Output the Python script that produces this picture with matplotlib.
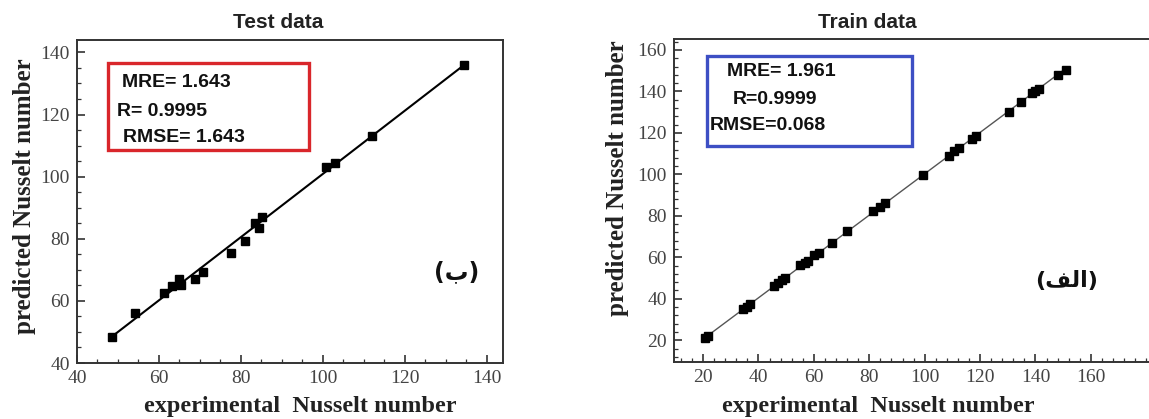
#!/usr/bin/env python3
"""
Predicted vs experimental Nusselt number (test / train)
"""

import numpy as np
import matplotlib
matplotlib.use("Agg")
import matplotlib.pyplot as plt
from matplotlib.ticker import MultipleLocator
from matplotlib.patches import Rectangle

# Test data
test_exp = [48.6, 54.1, 61.3, 63.1, 65.0, 65.4, 68.9, 70.7, 77.5, 81.0,
            83.4, 84.5, 85.2, 100.8, 102.9, 111.9, 134.4]
test_pred = [48.4, 56.1, 62.5, 64.8, 67.0, 65.2, 67.2, 69.3, 75.3, 79.3,
             85.1, 83.5, 87.0, 103.1, 104.5, 113.2, 136.0]

# Train data
train_exp = [20.8, 21.8, 34.5, 35.7, 37.1, 45.7, 47.1, 48.6, 49.6, 55.0,
             56.8, 57.8, 60.2, 61.9, 66.7, 71.9, 81.5, 84.0, 85.7, 99.3,
             108.7, 110.5, 112.3, 117.1, 118.6, 130.4, 134.6, 138.8, 140.0,
             141.2, 148.1, 150.9]
train_pred = [21.0, 22.0, 35.0, 35.8, 37.3, 46.1, 47.4, 49.0, 49.8, 56.1,
              57.4, 58.2, 61.0, 62.3, 67.1, 72.7, 82.1, 84.5, 86.1, 99.5,
              109.1, 111.2, 112.8, 117.1, 118.4, 130.3, 134.8, 139.1, 140.4,
              141.2, 148.1, 150.5]
train_xticks = [20, 40, 60, 80, 100, 120, 140, 160]

test_stats = ["MRE= 1.643", "R= 0.9995", "RMSE= 1.643"]
train_stats = ["MRE= 1.961", "R=0.9999", "RMSE=0.068"]

W, H = 1149, 419
SERIF = "Liberation Serif"
SANS = "Liberation Sans"


def px(x, y):
    """pixel -> figure fraction"""
    return x / W, 1 - y / H


def style_axes(ax, major, minor):
    for s in ax.spines.values():
        s.set_color("#333333")
        s.set_linewidth(1.4)
    ax.xaxis.set_major_locator(MultipleLocator(major))
    ax.yaxis.set_major_locator(MultipleLocator(major))
    ax.xaxis.set_minor_locator(MultipleLocator(minor))
    ax.yaxis.set_minor_locator(MultipleLocator(minor))
    ax.tick_params(which="both", direction="in", top=False, right=False,
                   colors="#333333", labelcolor="#444444")
    ax.tick_params(which="major", length=6, width=1.2, labelsize=14, pad=5)
    ax.tick_params(which="minor", length=3, width=0.9)


def serif_ticks(ax):
    for lab in ax.get_xticklabels() + ax.get_yticklabels():
        lab.set_family(SERIF)


def stat_box(fig, rect, color, lines):
    x0, y0, x1, y1 = rect
    fx0, fy1 = px(x0, y0)
    fx1, fy0 = px(x1, y1)
    fig.patches.append(Rectangle((fx0, fy0), fx1 - fx0, fy1 - fy0,
                                 transform=fig.transFigure, fill=False,
                                 edgecolor=color, linewidth=2.4))
    for (tx, ty), txt in lines:
        fig.text(*px(tx, ty), txt, family=SANS, weight="bold", fontsize=14,
                 color="#111111", va="center", ha="left")


fig = plt.figure(figsize=(W / 100, H / 100), dpi=100)

# Test panel
ax1 = fig.add_axes([77 / W, 1 - 363 / H, (503 - 77) / W, (363 - 40) / H])
ax1.set_xlim(40, 144)
ax1.set_ylim(40, 144)
coef = np.polyfit(test_exp, test_pred, 1)
xs = np.array([min(test_exp), max(test_exp)])
ax1.plot(xs, np.polyval(coef, xs), color="black", lw=1.5, zorder=2)
ax1.plot(test_exp, test_pred, "s", color="black", ms=5.5, zorder=3)
style_axes(ax1, 20, 5)
serif_ticks(ax1)

# Train panel (right spine runs past the picture edge)
ax2 = fig.add_axes([674 / W, 1 - 362 / H, 485 / W, (362 - 39) / H])
coef2 = np.polyfit(train_exp, train_pred, 1)
xs2 = np.array([min(train_exp), max(train_exp)])
ax2.plot(xs2, np.polyval(coef2, xs2), color="#555555", lw=1.0, zorder=2)
ax2.plot(train_exp, train_pred, "s", color="black", ms=5.5, zorder=3)
style_axes(ax2, 20, 4)
ax2.set_xticks(train_xticks)
ax2.set_xlim(9.5, 184.6)
ax2.set_ylim(9.5, 165.3)
serif_ticks(ax2)

# titles
fig.text(*px(278, 22), "Test data", family=SANS, weight="bold", fontsize=15,
         ha="center", va="center", color="#222222")
fig.text(*px(867, 22), "Train data", family=SANS, weight="bold", fontsize=15,
         ha="center", va="center", color="#222222")

# axis labels
fig.text(*px(25, 196), "predicted Nusselt number", family=SERIF,
         weight="bold", fontsize=18, rotation=90, ha="center", va="center",
         color="#222222")
fig.text(*px(617, 178), "predicted Nusselt number", family=SERIF,
         weight="bold", fontsize=18, rotation=90, ha="center", va="center",
         color="#222222")
fig.text(*px(300, 406), "experimental  Nusselt number", family=SERIF,
         weight="bold", fontsize=17.5, ha="center", va="center",
         color="#222222")
fig.text(*px(878, 406), "experimental  Nusselt number", family=SERIF,
         weight="bold", fontsize=17.5, ha="center", va="center",
         color="#222222")

# stat boxes
stat_box(fig, (108, 63, 309, 150), "#d9262b",
         [((122, 82), test_stats[0]), ((117, 111), test_stats[1]),
          ((123, 137), test_stats[2])])
stat_box(fig, (707, 56, 912, 146), "#3d4fc4",
         [((727, 72), train_stats[0]), ((733, 100), train_stats[1]),
          ((710, 126), train_stats[2])])

# panel tags (Arabic glyphs given in visual order)
fig.text(*px(457, 272), "(\u0628)", family=["DejaVu Sans"], weight="bold",
         fontsize=17, ha="center", va="center", color="#111111")
fig.text(*px(1067, 281), "(\uFED2\uFEDF\uFE8D)", family=["DejaVu Sans"],
         weight="bold", fontsize=16, ha="center", va="center",
         color="#111111")

fig.savefig("out.png", dpi=100)
